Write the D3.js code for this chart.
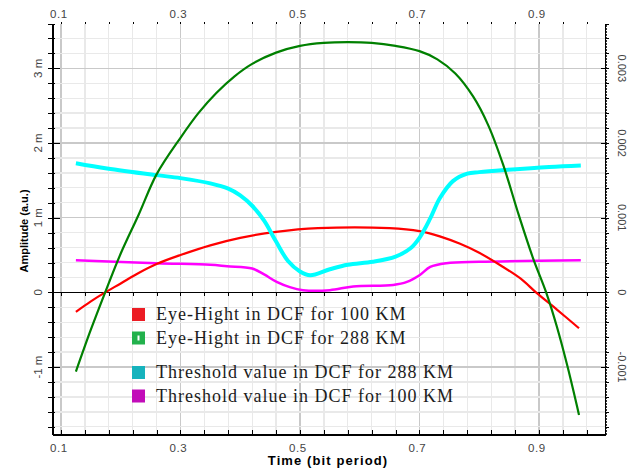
<!DOCTYPE html>
<html>
<head>
<meta charset="utf-8">
<script src="https://cdn.jsdelivr.net/npm/d3@7"></script>
<style>
  body { margin: 0; background: #fff; }
  svg { display: block; }
</style>
</head>
<body>
<svg id="chart" width="636" height="470"></svg>
<script>
// values: time in bit periods, amplitude in a.u.
var redT   = [0.125, 0.15, 0.174, 0.2, 0.23, 0.26, 0.3, 0.35, 0.4, 0.46, 0.53, 0.65, 0.7, 0.734, 0.768, 0.8, 0.836, 0.87, 0.895, 0.93, 0.967];
var redV   = [-0.00026, -0.00012, 0, 0.00012, 0.00026, 0.00038, 0.0005, 0.00063, 0.00073, 0.00081, 0.00086, 0.00086, 0.00082, 0.00075, 0.00065, 0.00053, 0.00036, 0.00018, 0, -0.00023, -0.00048];

var greenT = [0.125, 0.15, 0.174, 0.2, 0.23, 0.26, 0.3, 0.33, 0.36, 0.39, 0.42, 0.46, 0.5, 0.54, 0.58, 0.62, 0.66, 0.7, 0.73, 0.76, 0.79, 0.815, 0.84, 0.866, 0.89, 0.912, 0.93, 0.948, 0.967];
var greenV = [-0.00106, -0.0005, 0, 0.00052, 0.00104, 0.00158, 0.00207, 0.0024, 0.00267, 0.00289, 0.00306, 0.00321, 0.0033, 0.00334, 0.00335, 0.00334, 0.0033, 0.00323, 0.00312, 0.00293, 0.00262, 0.00224, 0.00171, 0.00104, 0.00046, 0, -0.00046, -0.001, -0.00164];

var cyanT  = [0.125, 0.177, 0.26, 0.3, 0.35, 0.38, 0.4, 0.42, 0.44, 0.46, 0.48, 0.5, 0.517, 0.55, 0.58, 0.622, 0.66, 0.685, 0.7, 0.718, 0.734, 0.756, 0.78, 0.8, 0.845, 0.917, 0.97];
var cyanV  = [0.00173, 0.00166, 0.00157, 0.00153, 0.00146, 0.00139, 0.0013, 0.00116, 0.00096, 0.00068, 0.00042, 0.00028, 0.00023, 0.00031, 0.00037, 0.00041, 0.00048, 0.00059, 0.00073, 0.00099, 0.00126, 0.00149, 0.00159, 0.00161, 0.00164, 0.00168, 0.0017];

var pinkT  = [0.125, 0.26, 0.35, 0.378, 0.42, 0.44, 0.461, 0.483, 0.505, 0.55, 0.589, 0.656, 0.679, 0.7, 0.718, 0.745, 0.8, 0.97];
var pinkV  = [0.00043, 0.00039, 0.00037, 0.00035, 0.00032, 0.00024, 0.00014, 0.00007, 0.00003, 0.00003, 0.00008, 0.0001, 0.00014, 0.00023, 0.00034, 0.00039, 0.00041, 0.00043];

var legendNames = ["Eye-Hight in DCF for 100 KM", "Eye-Hight in DCF for 288 KM",
                   "Threshold value in DCF for 288 KM", "Threshold value in DCF for 100 KM"];

var xLabels = ["0.1", "0.3", "0.5", "0.7", "0.9"];
var xMajor = [0.1, 0.3, 0.5, 0.7, 0.9];
var yMajor = [-0.001, 0, 0.001, 0.002, 0.003];
var yLabelsLeft  = ["-1 m", "0", "1 m", "2 m", "3 m"];
var yLabelsRight = ["-0.001", "0", "0.001", "0.002", "0.003"];

var svg = d3.select("#chart");

var x = d3.scaleLinear().domain([0.0855, 1.0105]).range([52.3, 605]);
var y = d3.scaleLinear().domain([-0.0019, 0.0036]).range([434.3, 23.5]);

var xMinor = d3.range(0, 23).map(function(i) { return +(0.1 + i * 0.04).toFixed(2); });
var yMinor = d3.range(-9, 19).map(function(i) { return +(i * 0.0002).toFixed(4); });
var yFine  = d3.range(-95, 181).map(function(i) { return i * 0.00002; });
var xFine  = d3.range(22, 253).map(function(i) { return i * 0.004; });

function isMajorX(d) { return xMajor.some(function(m) { return Math.abs(m - d) < 1e-6; }); }
function isMajorY(d) { return yMajor.some(function(m) { return Math.abs(m - d) < 1e-7; }); }

// grid
var grid = svg.append("g").attr("shape-rendering", "crispEdges");
grid.selectAll(".vx").data(xMinor).enter().append("line")
  .attr("x1", function(d) { return x(d); }).attr("x2", function(d) { return x(d); })
  .attr("y1", y(0.0036)).attr("y2", y(-0.0019))
  .attr("stroke", function(d) { return isMajorX(d) ? "#c9c9c9" : "#e9e9e9"; })
  .attr("stroke-width", 1.3);
grid.selectAll(".hy").data(yMinor.filter(function(d) { return d < 0.0035 && d !== 0; })).enter().append("line")
  .attr("x1", x.range()[0]).attr("x2", x.range()[1])
  .attr("y1", function(d) { return y(d); }).attr("y2", function(d) { return y(d); })
  .attr("stroke", function(d) { return isMajorY(d) ? "#c9c9c9" : "#e9e9e9"; })
  .attr("stroke-width", 1.3);

// axes
function styleAxis(g) {
  g.selectAll("path, line").attr("stroke", "#000").attr("shape-rendering", "crispEdges");
  g.selectAll("text").remove();
}

// zero line
svg.append("g").attr("transform", "translate(0," + y(0) + ")")
  .call(d3.axisBottom(x).tickValues(xMinor).tickSize(4).tickSizeOuter(0))
  .call(styleAxis);

// bottom
svg.append("g").attr("transform", "translate(0," + y(-0.0019) + ")")
  .call(d3.axisBottom(x).tickValues(xFine).tickSize(2).tickSizeOuter(0))
  .call(styleAxis)
  .selectAll("line").attr("stroke", "#444");
svg.append("g").attr("transform", "translate(0," + y(-0.0019) + ")")
  .call(d3.axisTop(x).tickValues(xMinor).tickSize(4).tickSizeOuter(0))
  .call(styleAxis)
  .select(".domain").attr("stroke-width", 1.5);

// top, only small ticks
svg.append("g").attr("transform", "translate(0," + y(0.0036) + ")")
  .call(d3.axisTop(x).tickValues(xMinor).tickSize(2))
  .call(styleAxis)
  .call(function(g) { g.select(".domain").remove(); });

// left
var leftAxis = svg.append("g").attr("transform", "translate(" + x.range()[0] + ",0)")
  .call(d3.axisLeft(y).tickValues(yMinor).tickSize(4).tickSizeOuter(0))
  .call(styleAxis);
leftAxis.selectAll(".tick line").attr("x1", function(d) { return isMajorY(d) ? 8 : 3; });
leftAxis.select(".domain").attr("stroke-width", 1.5);

// right
svg.append("g").attr("transform", "translate(" + x.range()[1] + ",0)")
  .call(d3.axisRight(y).tickValues(yFine).tickSize(2).tickSizeOuter(0))
  .call(styleAxis)
  .selectAll("line").attr("stroke", "#333");
var rightAxis = svg.append("g").attr("transform", "translate(" + x.range()[1] + ",0)")
  .call(d3.axisRight(y).tickValues(yMinor).tickSize(4).tickSizeOuter(0))
  .call(styleAxis);
rightAxis.selectAll(".tick line").attr("x1", function(d) { return isMajorY(d) ? -4 : 0; });
rightAxis.select(".domain").attr("stroke-width", 1.5);

// tick labels
var tickFont = "'Liberation Sans', Arial, sans-serif";
[18, 452].forEach(function(by) {
  svg.selectAll(null).data(xMajor).enter().append("text")
    .attr("x", function(d) { return x(d) - 2; })
    .attr("y", by)
    .attr("text-anchor", "middle")
    .style("font-family", tickFont).style("font-size", "11.5px")
    .style("letter-spacing", "0.6px")
    .attr("fill", "#444")
    .text(function(d, i) { return xLabels[i]; });
});
svg.selectAll(null).data(yMajor).enter().append("text")
  .attr("transform", function(d) { return "translate(42," + y(d) + ") rotate(-90)"; })
  .attr("text-anchor", "middle")
  .style("font-family", tickFont).style("font-size", "11.5px")
  .attr("fill", "#444")
  .text(function(d, i) { return yLabelsLeft[i]; });
svg.selectAll(null).data(yMajor).enter().append("text")
  .attr("transform", function(d) { return "translate(618," + y(d) + ") rotate(90)"; })
  .attr("text-anchor", "middle")
  .style("font-family", tickFont).style("font-size", "11px")
  .attr("fill", "#444")
  .text(function(d, i) { return yLabelsRight[i]; });

// axis titles
svg.append("text")
  .attr("transform", "translate(28,231) rotate(-90)")
  .attr("text-anchor", "middle")
  .style("font-family", tickFont).style("font-size", "11px").style("font-weight", "bold")
  .text("Amplitude (a.u.)");
svg.append("text")
  .attr("x", 328).attr("y", 465)
  .attr("text-anchor", "middle")
  .style("font-family", tickFont).style("font-size", "13px").style("font-weight", "bold")
  .style("letter-spacing", "1.1px")
  .text("Time (bit period)");

// curves
function zip(t, v) { return t.map(function(d, i) { return [d, v[i]]; }); }
var line = d3.line()
  .x(function(d) { return x(d[0]); })
  .y(function(d) { return y(d[1]); })
  .curve(d3.curveCatmullRom.alpha(0.5));

var series = [
  { data: zip(pinkT, pinkV),   color: "#ff00ff", w: 2.5 },
  { data: zip(redT, redV),     color: "#ff0000", w: 2.2 },
  { data: zip(cyanT, cyanV),   color: "#00ffff", w: 4 },
  { data: zip(greenT, greenV), color: "#008000", w: 2.2 }
];
svg.append("g").selectAll("path").data(series).enter().append("path")
  .attr("d", function(d) { return line(d.data); })
  .attr("fill", "none")
  .attr("stroke", function(d) { return d.color; })
  .attr("stroke-width", function(d) { return d.w; });

// legend
var legendColors = ["#ec1c24", "#22b14c", "#16b3bd", "#c20cb9"];
var legendBase = [320, 343.5, 378, 401.5];
var lg = svg.append("g");
var item = lg.selectAll("g").data(legendNames).enter().append("g")
  .attr("transform", function(d, i) { return "translate(0," + legendBase[i] + ")"; });
item.append("rect")
  .attr("x", 132).attr("y", -12).attr("width", 13).attr("height", 13)
  .attr("fill", function(d, i) { return legendColors[i]; });
item.filter(function(d, i) { return i === 1; }).append("rect")
  .attr("x", 137.5).attr("y", -8).attr("width", 2).attr("height", 5).attr("fill", "#fff");
item.append("text")
  .attr("x", 156).attr("y", 0)
  .style("font-family", "'Liberation Serif', 'Times New Roman', serif")
  .style("font-size", "18px").style("letter-spacing", "1px")
  .attr("fill", "#1c1c1c")
  .text(function(d) { return d; });
</script>
</body>
</html>
